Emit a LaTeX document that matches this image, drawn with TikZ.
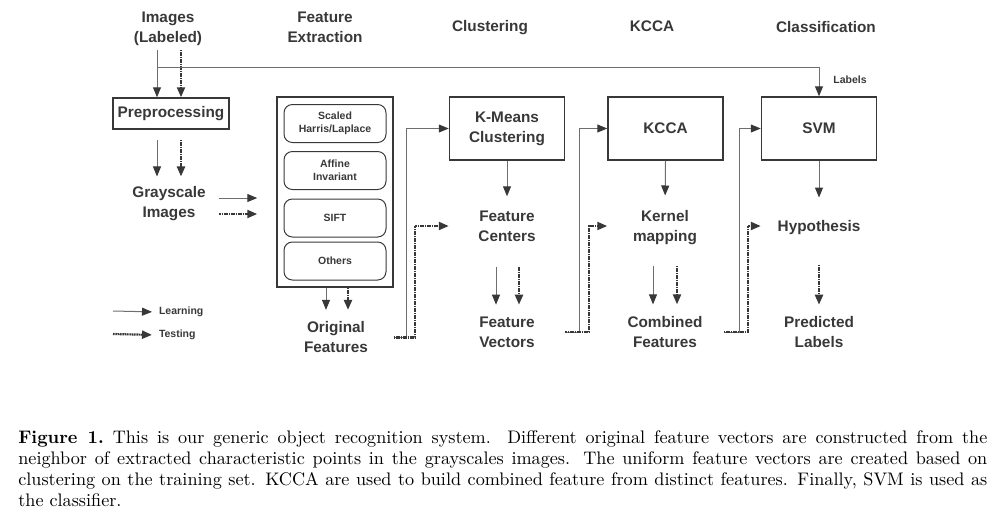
\documentclass[tikz,border=0pt]{standalone}
\usepackage{fontspec}
\newfontfamily\arialfont{Liberation Sans}
\usetikzlibrary{arrows.meta}
\definecolor{ink}{HTML}{383838}
\definecolor{wire}{HTML}{6E6E6E}

\begin{document}
\begin{tikzpicture}[x=0.6pt,y=-0.6pt,
    tip/.style={-{Triangle[length=6pt,width=4.8pt,color=ink]}},
    learn/.style={tip,draw=wire,line width=0.6pt},
    test/.style={tip,draw=ink,line width=1.3pt,dash pattern=on 1pt off 0.4pt},
    txt/.style={font=\arialfont\bfseries\fontsize{9.2}{12}\selectfont,text=ink,align=center,inner sep=2pt},
    small/.style={font=\arialfont\bfseries\fontsize{6.3}{7.8}\selectfont,text=ink,align=center,inner sep=1pt},
    blk/.style={txt,draw=ink,line width=0.9pt,minimum width=69pt,minimum height=37.8pt},
    sub/.style={small,draw=ink,line width=0.6pt,rounded corners=5pt,minimum width=61.2pt,minimum height=22.8pt}]
                    \useasboundingbox (0,0) rectangle (996,515);
                    \node[txt] (hImg) at (168,29) {Images\\(Labeled)};
                    \node[txt] (hFeat) at (325,27) {Feature\\Extraction};
                    \node[txt] (hClu) at (490,28) {Clustering};
                    \node[txt] (hKcca) at (652,26) {KCCA};
                    \node[txt] (hCls) at (826,27) {Classification};
                    \node[blk,minimum width=69.6pt,minimum height=18.6pt] (pre) at (171,113.5) {Preprocessing};
                    \node[txt] (gray) at (169,204) {Grayscale\\Images};
                    \node[draw=ink,line width=0.9pt,minimum width=69.6pt,minimum height=114pt] (fx) at (335,192) {};
                    \node[sub] (s1) at (335,123.5) {Scaled\\Harris/Laplace};
                    \node[sub] (s2) at (335,170.5) {Affine\\Invariant};
                    \node[sub] (s3) at (335,218) {SIFT};
                    \node[sub] (s4) at (335,261) {Others};
                    \node[txt] (orig) at (336,337.5) {Original\\Features};
                    \node[blk] (km) at (507,128.5) {K-Means\\Clustering};
                    \node[txt] (fc) at (507,226) {Feature\\Centers};
                    \node[txt] (fv) at (507,332) {Feature\\Vectors};
                    \node[blk] (kc) at (665.5,128.5) {KCCA};
                    \node[txt] (kmap) at (665,228) {Kernel\\mapping};
                    \node[txt] (cf) at (665,332) {Combined\\Features};
                    \node[blk] (svm) at (819,128.5) {SVM};
                    \node[txt] (hyp) at (819,228) {Hypothesis};
                    \node[txt] (pl) at (819,332) {Predicted\\Labels};
                    \node[small] (lab) at (850,80) {Labels};
                    \node[small,anchor=west] (lrn) at (157,312) {Learning};
                    \node[small,anchor=west] (tst) at (157,335) {Testing};
                    \coordinate (a1) at (157,0); \coordinate (b1) at (181,0);
                    \coordinate (a2) at (326,0); \coordinate (b2) at (348,0);
                    \coordinate (a3) at (406,0); \coordinate (b3) at (415,0);
                    \coordinate (a4) at (496,0); \coordinate (b4) at (519,0);
                    \coordinate (a5) at (579,0); \coordinate (b5) at (589,0);
                    \coordinate (a6) at (653,0); \coordinate (b6) at (677,0);
                    \coordinate (a7) at (739,0); \coordinate (b7) at (748,0);
                    \coordinate (t1) at (157,67);
                    \coordinate (g1) at (113,311); \coordinate (g2) at (113,334);
                    \draw[learn] (hImg.south -| a1) -- (pre.north -| a1);
                    \draw[test] (hImg.south -| b1) -- (pre.north -| b1);
                    \draw[learn] (t1) -| (svm.north);
                    \draw[learn,shorten <=6pt,shorten >=4pt] (pre.south -| a1) -- (gray.north -| a1);
                    \draw[test,shorten <=6pt,shorten >=4pt] (pre.south -| b1) -- (gray.north -| b1);
                    \draw[learn,shorten <=6pt,shorten >=11.4pt] ([yshift=3.6pt]gray.east) -- ([yshift=3.6pt]gray.east -| fx.west);
                    \draw[test,shorten <=6pt,shorten >=11.4pt] ([yshift=-6pt]gray.east) -- ([yshift=-6pt]gray.east -| fx.west);
                    \draw[learn,shorten >=5pt] (fx.south -| a2) -- (orig.north -| a2);
                    \draw[test,shorten >=5pt] (fx.south -| b2) -- (orig.north -| b2);
                    \draw[learn] (orig -| fx.east) -- (orig -| a3) |- (km.west);
                    \draw[test] (orig -| fx.east) -- (orig -| b3) |- (km.west |- fc);
                    \draw[learn,shorten >=6.4pt] (km.south) -- (fc.north);
                    \draw[learn,shorten <=13.2pt,shorten >=5pt] (fc.south -| a4) -- (fv.north -| a4);
                    \draw[test,shorten <=13.2pt,shorten >=5pt] (fc.south -| b4) -- (fv.north -| b4);
                    \draw[learn] (fv -| km.east) -- (fv -| a5) |- (kc.west);
                    \draw[test] (fv -| km.east) -- (fv -| b5) |- (kc.west |- fc);
                    \draw[learn,shorten >=7pt] (kc.south) -- (kmap.north);
                    \draw[learn,shorten <=10pt,shorten >=5pt] (kmap.south -| a6) -- (cf.north -| a6);
                    \draw[test,shorten <=10pt,shorten >=5pt] (kmap.south -| b6) -- (cf.north -| b6);
                    \draw[learn] (cf -| kc.east) -- (cf -| a7) |- (svm.west);
                    \draw[test] (cf -| kc.east) -- (cf -| b7) |- (svm.west |- fc);
                    \draw[learn,shorten >=11.8pt] (svm.south) -- (hyp.north);
                    \draw[test,shorten <=15.6pt,shorten >=4.8pt] (hyp.south) -- (pl.north);
                    \draw[learn,shorten >=3pt] (g1) -- (lrn.west);
                    \draw[test,shorten >=3pt] (g2) -- (tst.west);
                    \node[anchor=base west,text width=581.4pt,align=justify,inner sep=0pt,font=\fontsize{10.9}{12.6}\selectfont] (cap) at (18,443) {\textbf{Figure 1.}\ This is our generic object recognition system. Different original feature vectors are constructed from the\linebreak neighbor of extracted characteristic points in the grayscales images. The uniform feature vectors are created based on\linebreak clustering on the training set. KCCA are used to build combined feature from distinct features. Finally, SVM is used as\linebreak the classifier.};
                \end{tikzpicture}
\end{document}
